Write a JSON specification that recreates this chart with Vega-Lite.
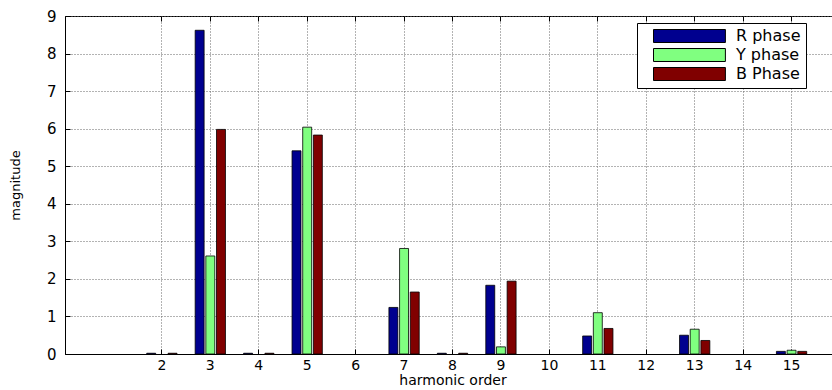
{
  "$schema": "https://vega.github.io/schema/vega-lite/v6.json",
  "autosize": "none",
  "padding": {"left": 65, "top": 16, "right": 0, "bottom": 36},
  "width": 775,
  "height": 338,
  "background": "white",
  "config": {"view": {"stroke": "black", "strokeWidth": 1}, "font": "DejaVu Sans"},
  "data": {"values": [
    {"harmonic": 2, "phase": "R phase", "magnitude": 0.02},
    {"harmonic": 2, "phase": "B Phase", "magnitude": 0.02},
    {"harmonic": 3, "phase": "R phase", "magnitude": 8.62},
    {"harmonic": 3, "phase": "Y phase", "magnitude": 2.61},
    {"harmonic": 3, "phase": "B Phase", "magnitude": 5.98},
    {"harmonic": 4, "phase": "R phase", "magnitude": 0.02},
    {"harmonic": 4, "phase": "B Phase", "magnitude": 0.02},
    {"harmonic": 5, "phase": "R phase", "magnitude": 5.41},
    {"harmonic": 5, "phase": "Y phase", "magnitude": 6.04},
    {"harmonic": 5, "phase": "B Phase", "magnitude": 5.83},
    {"harmonic": 7, "phase": "R phase", "magnitude": 1.24},
    {"harmonic": 7, "phase": "Y phase", "magnitude": 2.81},
    {"harmonic": 7, "phase": "B Phase", "magnitude": 1.65},
    {"harmonic": 8, "phase": "R phase", "magnitude": 0.02},
    {"harmonic": 8, "phase": "B Phase", "magnitude": 0.02},
    {"harmonic": 9, "phase": "R phase", "magnitude": 1.83},
    {"harmonic": 9, "phase": "Y phase", "magnitude": 0.19},
    {"harmonic": 9, "phase": "B Phase", "magnitude": 1.94},
    {"harmonic": 11, "phase": "R phase", "magnitude": 0.48},
    {"harmonic": 11, "phase": "Y phase", "magnitude": 1.1},
    {"harmonic": 11, "phase": "B Phase", "magnitude": 0.68},
    {"harmonic": 13, "phase": "R phase", "magnitude": 0.5},
    {"harmonic": 13, "phase": "Y phase", "magnitude": 0.66},
    {"harmonic": 13, "phase": "B Phase", "magnitude": 0.36},
    {"harmonic": 15, "phase": "R phase", "magnitude": 0.07},
    {"harmonic": 15, "phase": "Y phase", "magnitude": 0.1},
    {"harmonic": 15, "phase": "B Phase", "magnitude": 0.07}
  ]},
  "resolve": {"axis": {"x": "independent", "y": "independent"}},
  "layer": [
    {
      "mark": {"type": "bar", "stroke": "black", "strokeWidth": 0.8},
      "encoding": {
        "x": {"field": "harmonic", "type": "ordinal",
          "scale": {"domain": [1,2,3,4,5,6,7,8,9,10,11,12,13,14,15], "paddingInner": 0, "paddingOuter": 0.5},
          "axis": {"values": [2,3,4,5,6,7,8,9,10,11,12,13,14,15], "title": "harmonic order", "labelAngle": 0,
            "bandPosition": 0.5,
            "titleFontSize": 14, "titleColor": "black", "titleFontWeight": "normal", "titlePadding": 1,
            "labelFontSize": 14, "labelColor": "black", "labelPadding": 9,
            "grid": true, "gridDash": [1, 2], "gridColor": "#666", "gridOpacity": 1,
            "domainColor": "black", "tickColor": "black", "tickSize": -5}},
        "xOffset": {"field": "phase", "type": "nominal",
          "scale": {"domain": ["R phase", "Y phase", "B Phase"], "paddingInner": 0.16, "paddingOuter": 0.85}},
        "y": {"field": "magnitude", "type": "quantitative", "stack": null,
          "scale": {"domain": [0, 9], "nice": false},
          "axis": {"values": [0,1,2,3,4,5,6,7,8,9], "title": "magnitude",
            "titleFontSize": 13, "titleColor": "black", "titleFontWeight": "normal", "titlePadding": 24,
            "labelFontSize": 15, "labelColor": "black", "labelPadding": 14,
            "grid": true, "gridDash": [1, 2], "gridColor": "#666", "gridOpacity": 1,
            "domainColor": "black", "tickColor": "black", "tickSize": -5}},
        "fill": {"field": "phase", "type": "nominal",
          "scale": {"domain": ["R phase", "Y phase", "B Phase"], "range": ["#00008F", "#80FF80", "#800000"]},
          "legend": {"title": null, "orient": "none", "legendX": 572, "legendY": 7,
            "strokeColor": "black", "fillColor": "white", "padding": 5,
            "symbolType": "M0.54,-1H11.6V1H0.54Z", "symbolSize": 169,
            "symbolStrokeColor": "black", "symbolStrokeWidth": 1,
            "labelFontSize": 16, "labelColor": "black", "rowPadding": 1, "labelOffset": 78}}
      }
    },
    {
      "mark": {"type": "rule", "opacity": 0},
      "encoding": {
        "x": {"field": "harmonic", "type": "ordinal",
          "axis": {"orient": "top", "values": [2,3,4,5,6,7,8,9,10,11,12,13,14,15], "title": null,
            "labels": false, "grid": false, "bandPosition": 0.5, "domain": false,
            "tickColor": "black", "tickSize": -5}}
      }
    }
  ]
}
